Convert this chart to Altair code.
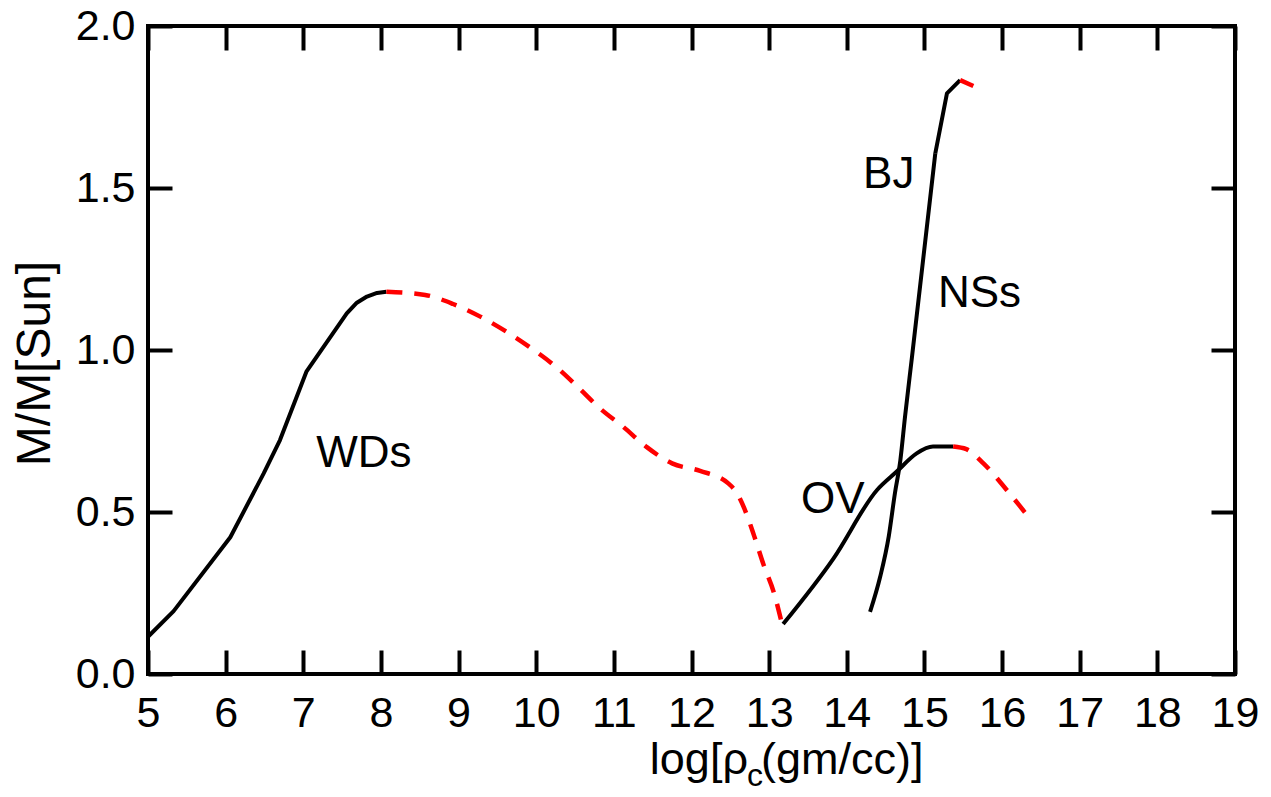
import altair as alt
import pandas as pd

FONT = "Liberation Sans"

# ---- data ----
wd_solid_x = [5.00, 5.33, 6.06, 6.49, 6.70, 7.04, 7.56, 7.69, 7.82, 7.95, 8.07]
wd_solid_y = [0.115, 0.194, 0.422, 0.619, 0.722, 0.933, 1.113, 1.146, 1.165, 1.176, 1.180]

wd_dash_x = [8.07, 8.57, 8.93, 9.28, 9.62, 9.94, 10.26, 10.54, 10.82, 11.12, 11.42,
             11.75, 12.11, 12.47, 12.58, 12.68, 12.81, 12.93, 13.06, 13.16]
wd_dash_y = [1.180, 1.170, 1.142, 1.103, 1.056, 1.005, 0.947, 0.885, 0.820, 0.763, 0.701,
             0.650, 0.627, 0.589, 0.560, 0.511, 0.424, 0.336, 0.252, 0.160]

ov_solid_x = [13.18, 13.83, 14.39, 14.64, 14.90, 15.11, 15.37]
ov_solid_y = [0.154, 0.357, 0.568, 0.624, 0.681, 0.702, 0.702]
ov_dash_x = [15.37, 15.54, 15.76, 16.06, 16.34]
ov_dash_y = [0.702, 0.694, 0.650, 0.568, 0.485]

bj_low_x = [14.30, 14.43, 14.54, 14.62, 14.69, 14.75, 14.84, 15.14]
bj_low_y = [0.192, 0.300, 0.424, 0.558, 0.660, 0.794, 0.979, 1.607]
bj_top_x = [15.14, 15.29, 15.46]
bj_top_y = [1.607, 1.792, 1.833]
bj_dash_x = [15.46, 15.63]
bj_dash_y = [1.833, 1.815]

label_text = ["WDs", "BJ", "NSs", "OV"]
label_x = [7.78, 14.54, 15.71, 13.82]
label_y = [0.640, 1.499, 1.134, 0.498]

x_ticks = list(range(5, 20))
y_ticks = [0.0, 0.5, 1.0, 1.5, 2.0]


def seg_df(name, xs, ys):
    return pd.DataFrame({"seg": name, "x": xs, "y": ys})


solid_lin_df = pd.concat([
    seg_df("WD", wd_solid_x, wd_solid_y),
    seg_df("BJtop", bj_top_x, bj_top_y),
])
solid_smooth_df = pd.concat([
    seg_df("OV", ov_solid_x, ov_solid_y),
    seg_df("BJlow", bj_low_x, bj_low_y),
])
dash_df = pd.concat([
    seg_df("WD", wd_dash_x, wd_dash_y),
    seg_df("OV", ov_dash_x, ov_dash_y),
    seg_df("BJ", bj_dash_x, bj_dash_y),
])
lab_df = pd.DataFrame({"t": label_text, "x": label_x, "y": label_y})

xs = alt.Scale(domain=[5, 19], nice=False, zero=False)
ys = alt.Scale(domain=[0, 2], nice=False, zero=False)

common = dict(tickSize=24, offset=-24, domain=False, grid=False, tickWidth=4,
              tickColor="black", title="")

axis_bottom = alt.Axis(orient="bottom", values=x_ticks, format="d", labelPadding=18,
                       labelFlush=False, labelOverlap=False, **common)
axis_top = alt.Axis(orient="top", values=x_ticks, labels=False, **common)
axis_left = alt.Axis(orient="left", values=y_ticks, format=".1f", labelPadding=13,
                     labelFlush=False, labelOverlap=False, **common)
axis_right = alt.Axis(orient="right", values=y_ticks, labels=False, **common)

solid = alt.Chart(solid_lin_df).mark_line(
    color="black", strokeWidth=4, interpolate="linear", strokeCap="butt",
    strokeJoin="round"
).encode(
    x=alt.X("x:Q", scale=xs, axis=axis_bottom),
    y=alt.Y("y:Q", scale=ys, axis=axis_left),
    detail="seg:N",
)

solid_smooth = alt.Chart(solid_smooth_df).mark_line(
    color="black", strokeWidth=4, interpolate="monotone", strokeCap="butt"
).encode(
    x=alt.X("x:Q", scale=xs, axis=None),
    y=alt.Y("y:Q", scale=ys, axis=None),
    detail="seg:N",
)

dashed = alt.Chart(dash_df).mark_line(
    color="#ff0000", strokeWidth=4.5, strokeDash=[16, 12], interpolate="monotone",
    strokeCap="butt"
).encode(
    x=alt.X("x:Q", scale=xs, axis=axis_top),
    y=alt.Y("y:Q", scale=ys, axis=axis_right),
    detail="seg:N",
)

labels = alt.Chart(lab_df).mark_text(
    font=FONT, fontSize=44, align="center", baseline="alphabetic", color="black"
).encode(
    x=alt.X("x:Q", scale=xs, axis=None),
    y=alt.Y("y:Q", scale=ys, axis=None),
    text="t:N",
)

ytitle = alt.Chart(alt.Data(values=[{"t": "M/M[Sun]"}])).mark_text(
    font=FONT, fontSize=48, angle=270, align="center", baseline="alphabetic", color="black"
).encode(x=alt.value(-98), y=alt.value(337.5), text="t:N")

xt1 = alt.Chart(alt.Data(values=[{"t": "log[ρ"}])).mark_text(
    font=FONT, fontSize=45, align="right", baseline="alphabetic", color="black"
).encode(x=alt.value(600), y=alt.value(748), text="t:N")
xt2 = alt.Chart(alt.Data(values=[{"t": "c"}])).mark_text(
    font=FONT, fontSize=32, align="left", baseline="alphabetic", color="black"
).encode(x=alt.value(599), y=alt.value(760), text="t:N")
xt3 = alt.Chart(alt.Data(values=[{"t": "(gm/cc)]"}])).mark_text(
    font=FONT, fontSize=45, align="left", baseline="alphabetic", color="black"
).encode(x=alt.value(613), y=alt.value(748), text="t:N")

chart = alt.layer(solid, solid_smooth, dashed, labels, ytitle, xt1, xt2, xt3).resolve_axis(
    x="independent", y="independent"
).properties(
    width=1087, height=648,
    padding={"left": 140, "top": 18, "right": 24, "bottom": 114},
    autosize=alt.AutoSizeParams(type="none"),
    background="white",
).configure_view(
    stroke="black", strokeWidth=4
).configure_axis(
    labelFont=FONT, labelFontSize=43, labelColor="black"
)

chart.save("out.html", embed_options={"renderer": "svg", "actions": False})
